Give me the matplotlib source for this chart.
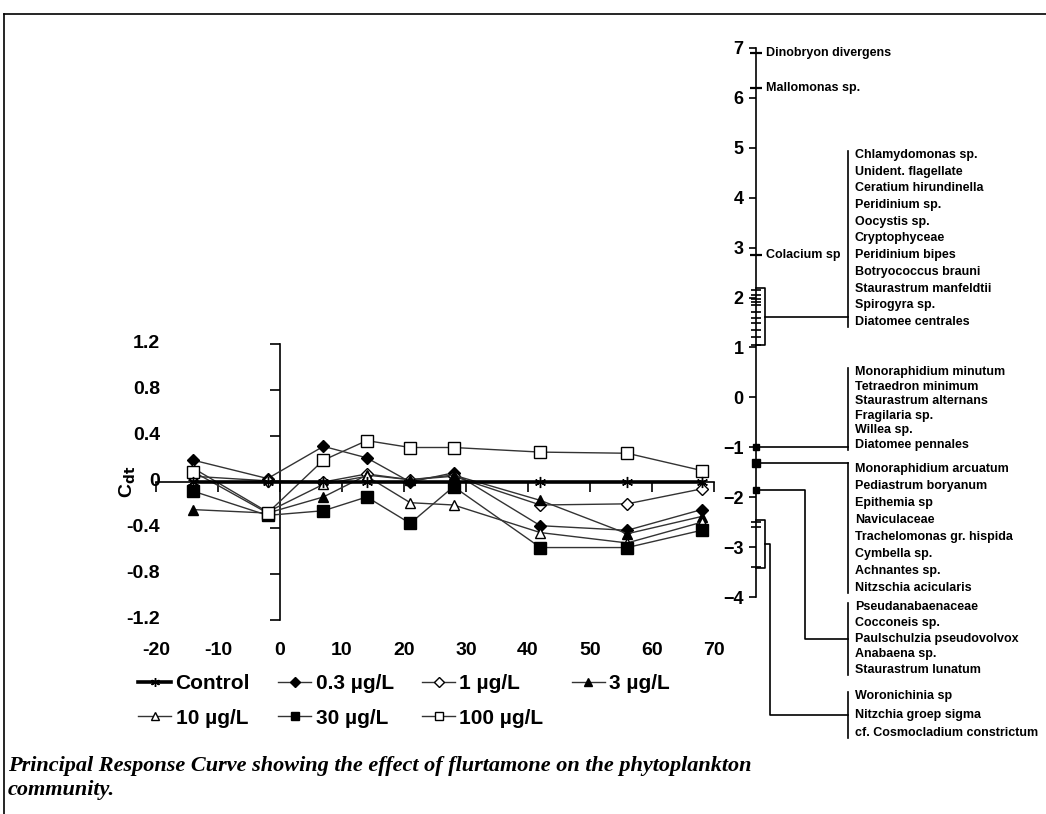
# Principal Response Curve (PRC) for flurtamone, phytoplankton community
import matplotlib.pyplot as plt
from matplotlib.lines import Line2D

plt.rcParams['font.family'] = ['Liberation Sans', 'DejaVu Sans']

# --- PRC data (C_dt per treatment) ---
days = [-14, -2, 7, 14, 21, 28, 42, 56, 68]
control = [0, 0, 0, 0, 0, 0, 0, 0, 0]
c_0_3 = [0.19, 0.03, 0.31, 0.21, 0.00, 0.08, -0.38, -0.42, -0.24]
c_1 = [0.05, 0.01, 0.00, 0.07, 0.02, 0.05, -0.20, -0.19, -0.06]
c_3 = [-0.24, -0.27, -0.13, 0.06, 0.02, 0.06, -0.16, -0.45, -0.30]
c_10 = [0.12, -0.26, -0.02, 0.05, -0.18, -0.20, -0.44, -0.53, -0.35]
c_30 = [-0.08, -0.29, -0.25, -0.13, -0.36, -0.04, -0.57, -0.57, -0.42]
c_100 = [0.09, -0.27, 0.19, 0.36, 0.30, 0.30, 0.26, 0.25, 0.10]

xticks = [-20, -10, 0, 10, 20, 30, 40, 50, 60, 70]
yticks = [-1.2, -0.8, -0.4, 0, 0.4, 0.8, 1.2]

# --- species weights (b_k) ---
single_names = ['Dinobryon divergens', 'Mallomonas sp.', 'Colacium sp']
single_weights = [6.9, 6.2, 2.85]

group1_names = ['Chlamydomonas sp.', 'Unident. flagellate', 'Ceratium hirundinella',
                'Peridinium sp.', 'Oocystis sp.', 'Cryptophyceae', 'Peridinium bipes',
                'Botryococcus brauni', 'Staurastrum manfeldtii', 'Spirogyra sp.',
                'Diatomee centrales']
group1_weights = [2.15, 2.05, 1.98, 1.92, 1.85, 1.72, 1.6, 1.48, 1.35, 1.2, 1.05]

group2_names = ['Monoraphidium minutum', 'Tetraedron minimum', 'Staurastrum alternans',
                'Fragilaria sp.', 'Willea sp.', 'Diatomee pennales']
group2_weights = [-1.0, -1.0, -1.0, -1.0, -1.0, -1.0]

group3_names = ['Monoraphidium arcuatum', 'Pediastrum boryanum', 'Epithemia sp',
                'Naviculaceae', 'Trachelomonas gr. hispida', 'Cymbella sp.',
                'Achnantes sp.', 'Nitzschia acicularis']
group3_weights = [-1.32] * 8

group4_names = ['Pseudanabaenaceae', 'Cocconeis sp.', 'Paulschulzia pseudovolvox',
                'Anabaena sp.', 'Staurastrum lunatum']
group4_weights = [-1.85] * 5

group5_names = ['Woronichinia sp', 'Nitzchia groep sigma', 'cf. Cosmocladium constrictum']
group5_weights = [-2.5, -2.6, -3.4]

W, H = 1046, 814
fig = plt.figure(figsize=(W / 100, H / 100), dpi=100)


def px_box(x0, y0, x1, y1):
    return [x0 / W, 1 - y1 / H, (x1 - x0) / W, (y1 - y0) / H]


# ---------------- PRC panel ----------------
ax = fig.add_axes(px_box(156, 344, 714, 620))
ax.set_xlim(-20, 70)
ax.set_ylim(-1.2, 1.2)

series = [
    ('Control', control, (6, 2, 0), 'black', 8),
    ('0.3 µg/L', c_0_3, 'D', 'black', 6),
    ('1 µg/L', c_1, 'D', 'white', 6),
    ('3 µg/L', c_3, '^', 'black', 7),
    ('10 µg/L', c_10, '^', 'white', 7),
    ('30 µg/L', c_30, 's', 'black', 8),
    ('100 µg/L', c_100, 's', 'white', 8),
]
handles = {}
for name, vals, mk, fc, ms in series:
    lw = 2.6 if name == 'Control' else 1.0
    col = 'black' if name == 'Control' else '#333333'
    h, = ax.plot(days, vals, color=col, lw=lw, marker=mk, mfc=fc, mec='black',
                 mew=1.0, ms=ms, label=name, zorder=4 if name == 'Control' else 3)
    handles[name] = h

for side in ['top', 'right']:
    ax.spines[side].set_visible(False)
ax.spines['left'].set_position(('data', 0))
ax.spines['bottom'].set_position(('data', 0))
ax.spines['left'].set_linewidth(1.2)
ax.spines['bottom'].set_linewidth(1.2)
ax.set_xticks(xticks)
ax.set_yticks(yticks)
ax.tick_params(direction='out', length=7, width=1.2, labelbottom=False, labelleft=False)

ytrans = ax.get_yaxis_transform()
for t in yticks:
    ax.text(0.007, t, '{:g}'.format(t), transform=ytrans, ha='right', va='center',
            fontsize=14, fontweight='bold')
xtrans = ax.get_xaxis_transform()
for t in xticks:
    ax.text(t, -0.11, '{:g}'.format(t), transform=xtrans, ha='center', va='center',
            fontsize=14, fontweight='bold')
ax.text(-0.05, 0.5, r'C$_{\mathbf{dt}}$', transform=ax.transAxes, rotation=90,
        ha='center', va='center', fontsize=14, fontweight='bold')

order = ['Control', '10 µg/L', '0.3 µg/L', '30 µg/L', '1 µg/L', '100 µg/L', '3 µg/L']
fig.legend([handles[k] for k in order], order, loc='upper left',
           bbox_to_anchor=(138 / W, 1 - 674 / H), ncol=4, frameon=False,
           prop={'weight': 'bold', 'size': 15}, handlelength=1.6, handletextpad=0.2,
           columnspacing=1.35, labelspacing=0.75, borderpad=0, borderaxespad=0,
           markerscale=0.8)

# ---------------- species weights panel ----------------
ax2 = fig.add_axes(px_box(756, 48, 1046, 597))
ax2.set_ylim(-4, 7)
ax2.set_xlim(0, 1)
for side in ['top', 'right', 'bottom']:
    ax2.spines[side].set_visible(False)
ax2.spines['left'].set_linewidth(1.2)
ax2.set_xticks([])
ax2.set_yticks(range(-4, 8))
ax2.tick_params(axis='y', direction='out', length=5, width=1.2, labelsize=13, pad=4)
for lab in ax2.get_yticklabels():
    lab.set_fontweight('bold')

name_kw = dict(fontsize=9, fontweight='bold', va='center', clip_on=False)
bar_x = 0.317
name_x = 0.341

# single species labelled next to the axis
ax2.plot([0] * len(single_weights), single_weights, ls='none', marker='_',
         ms=8, mew=1.6, color='black', clip_on=False)
for n, w in zip(single_names, single_weights):
    ax2.text(0.034, w, n, **name_kw)

# groups: (names, weights, list top, step, bracket?, elbow x, marker)
groups = [
    (group1_names, group1_weights, 4.86, 0.335, True, None, '_'),
    (group2_names, group2_weights, 0.51, 0.293, False, None, 's'),
    (group3_names, group3_weights, -1.44, 0.339, False, None, 's'),
    (group4_names, group4_weights, -4.20, 0.316, False, 0.169, 's'),
    (group5_names, group5_weights, -5.99, 0.371, True, 0.048, '_'),
]
for names, weights, top, step, bracket, elbow, mk in groups:
    ys = [top - i * step for i in range(len(names))]
    for n, y in zip(names, ys):
        ax2.text(name_x, y, n, **name_kw)
    if mk == 's':
        ax2.plot([0], [weights[0]], ls='none', marker='s', ms=5 if len(names) < 7 else 6,
                 color='black', clip_on=False)
    else:
        ax2.plot([0] * len(weights), weights, ls='none', marker='_', ms=7, mew=1.2,
                 color='black', clip_on=False)
    bar_top = ys[0] + 0.08
    bar_bot = ys[-1] - 0.1
    if bracket:
        hi, lo = max(weights) + 0.04, min(weights) - 0.01
        bx = 0.031
        ax2.plot([0, bx, bx, 0], [hi, hi, lo, lo], color='black', lw=1.2, clip_on=False)
        cy, cx = (hi + lo) / 2, bx
    else:
        cy, cx = weights[0], 0
    if bar_bot - 0.15 <= cy <= bar_top + 0.15:
        bar_top = max(bar_top, cy)
        bar_bot = min(bar_bot, cy)
        ax2.plot([cx, bar_x], [cy, cy], color='black', lw=1.2, clip_on=False)
    else:
        mid = (bar_top + bar_bot) / 2
        ax2.plot([cx, elbow, elbow, bar_x], [cy, cy, mid, mid], color='black', lw=1.2,
                 clip_on=False)
    ax2.plot([bar_x, bar_x], [bar_top, bar_bot], color='black', lw=1.2, clip_on=False)

# ---------------- frame and caption ----------------
fig.add_artist(Line2D([4 / W, 1], [1 - 14 / H, 1 - 14 / H], color='black', lw=1.2,
                      transform=fig.transFigure))
fig.add_artist(Line2D([4 / W, 4 / W], [0, 1 - 14 / H], color='black', lw=1.2,
                      transform=fig.transFigure))

cap_kw = dict(family=['Liberation Serif', 'DejaVu Serif'], style='italic',
              fontweight='bold', fontsize=16, va='baseline', ha='left')
fig.text(8 / W, 1 - 771 / H,
         'Principal Response Curve showing the effect of flurtamone on the phytoplankton',
         **cap_kw)
fig.text(8 / W, 1 - 795 / H, 'community.', **cap_kw)

fig.savefig('out.png', dpi=100)
